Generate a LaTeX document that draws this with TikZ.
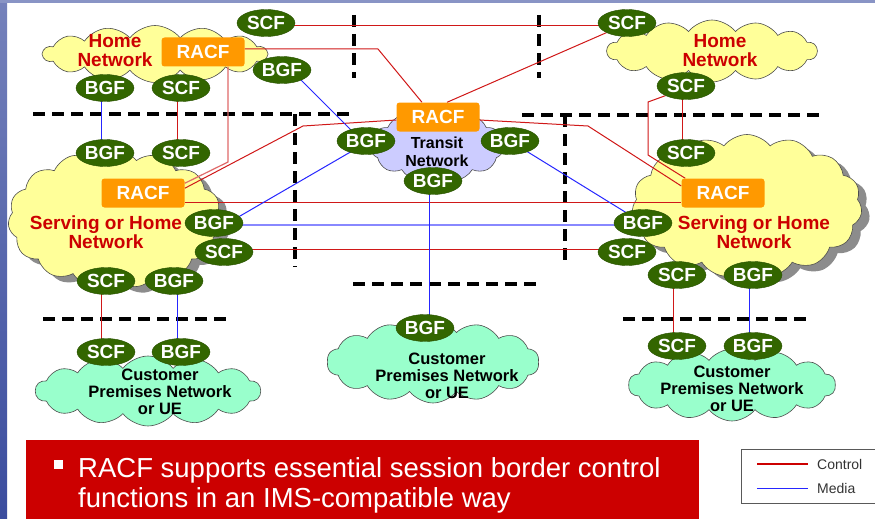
\documentclass[tikz,border=0pt]{standalone}
\usepackage{fontspec}
\setmainfont{Liberation Sans}
\usetikzlibrary{shapes.geometric,shapes.symbols}
\definecolor{fgreen}{HTML}{336600}
\definecolor{racforange}{HTML}{FF9900}
\definecolor{netred}{HTML}{CC0000}
\definecolor{cloudyellow}{HTML}{FFFF99}
\definecolor{cloudlav}{HTML}{CCCCFF}
\definecolor{cloudgreen}{HTML}{99FFCC}
\definecolor{ctrlred}{HTML}{D01818}
\definecolor{mediablue}{HTML}{2626FF}
\definecolor{stripblue}{HTML}{3A4C9E}
\pgfdeclarelayer{clouds}
\pgfdeclarelayer{links}
\pgfsetlayers{clouds,links,main}

\begin{document}
\begin{tikzpicture}[x=1pt,y=-1pt,
  fn/.style={ellipse, fill=fgreen, draw=fgreen!80!black, line width=0.4pt,
    minimum width=58pt, minimum height=27pt, inner sep=0pt, text=white,
    font=\fontsize{19}{19}\selectfont\bfseries},
  racfbox/.style={rectangle, rounded corners=3pt, fill=racforange,
    minimum width=83pt, minimum height=29pt, inner sep=0pt, text=white,
    font=\fontsize{19}{19}\selectfont\bfseries},
  netcloud/.style={cloud, cloud ignores aspect, cloud puff arc=105, draw=black!70, line width=0.6pt, inner sep=0pt},
  shadowcloud/.style={cloud, cloud ignores aspect, cloud puff arc=105, fill=black!45, draw=none, inner sep=0pt},
  redlabel/.style={align=center, text=netred, font=\fontsize{19}{19}\selectfont\bfseries, inner sep=0pt},
  blacklabel/.style={align=center, text=black, font=\fontsize{16.5}{17}\selectfont\bfseries, inner sep=0pt},
  zone/.style={line width=4pt, dash pattern=on 12pt off 7pt, black},
  ctrl/.style={ctrlred, line width=1pt},
  ctrllight/.style={ctrlred!65, line width=1.2pt},
  media/.style={mediablue, line width=1pt},
  medialight/.style={mediablue!55, line width=1.8pt},
]
\useasboundingbox (0,0) rectangle (875,519);

\begin{pgfonlayer}{clouds}
  % page background and slide border strips
  \fill[white] (0,0) rectangle (875,519);
  \shade[top color=stripblue!70, bottom color=stripblue] (0,0) rectangle (7,519);
  \fill[stripblue!60] (0,0) rectangle (875,3);

  % networks
  \node[netcloud, cloud puffs=14, fill=cloudyellow, minimum width=224pt, minimum height=57pt] (homel) at (155,54) {};
  \node[netcloud, cloud puffs=14, fill=cloudyellow, minimum width=210pt, minimum height=62pt] (homer) at (712,51) {};
  \node[shadowcloud, cloud puffs=15, minimum width=214pt, minimum height=138pt] (servlsh) at (123,225) {};
  \node[netcloud, cloud puffs=15, fill=cloudyellow, minimum width=214pt, minimum height=138pt] (servl) at (115,219) {};
  \node[shadowcloud, cloud puffs=15, minimum width=230pt, minimum height=143pt] (servrsh) at (755,212) {};
  \node[netcloud, cloud puffs=15, fill=cloudyellow, minimum width=230pt, minimum height=143pt] (servr) at (747,206) {};
  \node[netcloud, cloud puffs=11, fill=cloudlav, minimum width=133pt, minimum height=72pt] (transit) at (437,146) {};
  \node[netcloud, cloud puffs=14, fill=cloudgreen, minimum width=225pt, minimum height=70pt] (custl) at (148,391) {};
  \node[netcloud, cloud puffs=14, fill=cloudgreen, minimum width=212pt, minimum height=82pt] (custm) at (433,362) {};
  \node[netcloud, cloud puffs=14, fill=cloudgreen, minimum width=207pt, minimum height=72pt] (custr) at (732,385) {};
\end{pgfonlayer}

% network names
\node[redlabel] (homeltxt) at (115,51) {Home\\Network};
\node[redlabel] (homertxt) at (720,51) {Home\\Network};
\node[redlabel] (servltxt) at (106,232.5) {Serving or Home\\Network};
\node[redlabel] (servrtxt) at (754,232.5) {Serving or Home\\Network};
\node[blacklabel, font=\fontsize{16}{18}\selectfont\bfseries] (transtxt) at (437,152) {Transit\\Network};
\node[blacklabel] (custltxt) at (160,392) {Customer\\Premises Network\\or UE};
\node[blacklabel] (custmtxt) at (447,375.5) {Customer\\Premises Network\\or UE};
\node[blacklabel] (custrtxt) at (732,388.5) {Customer\\Premises Network\\or UE};

% functional entities
\node[fn] (scftl) at (266,23) {SCF};
\node[fn] (scftr) at (627,23) {SCF};
\node[racfbox] (racftl) at (203,52) {RACF};
\node[fn] (bgftl) at (282,70) {BGF};
\node[fn] (bgfhl) at (105,88) {BGF};
\node[fn] (scfhl) at (181,88) {SCF};
\node[fn] (scfhr) at (686,86) {SCF};

\node[fn] (bgfsl1) at (105,153) {BGF};
\node[fn] (scfsl1) at (181,153) {SCF};
\node[racfbox] (racfsl) at (143,193) {RACF};
\node[fn] (bgfsl2) at (214,223) {BGF};
\node[fn] (scfsl2) at (224,252) {SCF};
\node[fn] (scfsl3) at (106,281) {SCF};
\node[fn] (bgfsl3) at (174,281) {BGF};

\node[fn] (scfsr1) at (686,153) {SCF};
\node[racfbox] (racfsr) at (723,193) {RACF};
\node[fn] (bgfsr2) at (643,223) {BGF};
\node[fn] (scfsr2) at (627,252) {SCF};
\node[fn] (scfsr3) at (677,275) {SCF};
\node[fn] (bgfsr3) at (753,275) {BGF};

\node[racfbox] (racftt) at (438,117) {RACF};
\node[fn] (bgftt1) at (366,141) {BGF};
\node[fn] (bgftt2) at (510,141) {BGF};
\node[fn] (bgftt3) at (433,181) {BGF};

\node[fn] (scfcl) at (106,352) {SCF};
\node[fn] (bgfcl) at (181,352) {BGF};
\node[fn] (bgfcm) at (425,328) {BGF};
\node[fn] (scfcr) at (677,346) {SCF};
\node[fn] (bgfcr) at (753,346) {BGF};

% bend points of the control paths
\coordinate (kt1) at (378,49);
\coordinate (kt2) at (588,126);
\coordinate (kt3) at (303,126);
\coordinate (kt4) at (228,162);
\coordinate (kt5) at (648,102);
\coordinate (kt6) at (648,155);

\begin{pgfonlayer}{links}
  % domain boundaries
  \draw[zone] (33,114) -- (353,114);
  \draw[zone] (295,114) -- (295,267);
  \draw[zone] (522,115) -- (822,115);
  \draw[zone] (565,115) -- (565,267);
  \draw[zone] (354,15) -- (354,78);
  \draw[zone] (539,15) -- (539,78);
  \draw[zone] (43,319) -- (228,319);
  \draw[zone] (353,284) -- (539,284);
  \draw[zone] (623,319) -- (808,319);

  % control relations
  \draw[ctrl] ([yshift=-3pt]scftl.center) -- ([yshift=-3pt]scftr.center);
  \draw[ctrl] ([yshift=3pt]racftl.east) -- (kt1) -- ([xshift=-16pt]racftt.north);
  \draw[ctrl] ([xshift=9pt]racftt.north) -- (scftr.south west);
  \draw[ctrl] ([yshift=-3pt]racftt.east) -- (kt2) -- ([yshift=7pt]racfsr.west);
  \draw[ctrl] ([yshift=-3pt]racftt.west) -- (kt3) -- ([yshift=-10pt]racfsl.north east);
  \draw[ctrllight] ([xshift=25pt]racftl.south) -- (kt4) -- ([yshift=-5pt]racfsl.north east);
  \draw[ctrl] (scfhr.south west) -- (kt5) -- (kt6) -- ([xshift=4pt]racfsr.north west);
  \draw[ctrl] ([yshift=-9pt]racfsl.east) -- ([yshift=-9pt]racfsr.west);
  \draw[ctrl] ([yshift=3pt]scfsl2.center) -- ([yshift=3pt]scfsr2.center);
  \draw[ctrl] ([xshift=-4pt]scfhl.center) -- ([xshift=-4pt]scfsl1.center);
  \draw[ctrl] ([xshift=-4pt]scfhr.center) -- ([xshift=-4pt]scfsr1.center);
  \draw[ctrl] ([xshift=-5pt]scfsl3.center) -- ([xshift=-5pt]scfcl.center);
  \draw[ctrl] ([xshift=-4pt]scfsr3.center) -- ([xshift=-4pt]scfcr.center);

  % media relations
  \draw[media] ([xshift=11pt,yshift=-2pt]bgftl.center) -- ([xshift=-2pt,yshift=-2pt]bgftt1.center);
  \draw[media] ([xshift=14pt]bgfsl2.center) -- ([yshift=-2pt]bgftt1.center);
  \draw[media] (bgftt2.center) -- (bgfsr2.center);
  \draw[medialight] ([yshift=-2pt]bgfsl2.center) -- ([yshift=-2pt]bgfsr2.center);
  \draw[media] ([xshift=-4pt]bgfhl.center) -- ([xshift=-4pt]bgfsl1.center);
  \draw[media] ([xshift=-4pt]bgftt3.center) -- ([xshift=4pt]bgfcm.center);
  \draw[media] ([xshift=3pt]bgfsl3.center) -- ([xshift=-4pt]bgfcl.center);
  \draw[media] ([xshift=-4pt]bgfsr3.center) -- ([xshift=-4pt]bgfcr.center);
\end{pgfonlayer}

% summary banner
\fill[netred] (26,440) rectangle (699,522);
\node[fill=white, minimum size=9pt, inner sep=0pt] (bullet) at (58,464) {};
\node[anchor=base west, text=white, inner sep=0pt, font=\fontsize{27.5}{30}\selectfont] (line1) at (78,477) {RACF supports essential session border control};
\node[anchor=base west, text=white, inner sep=0pt, font=\fontsize{27.5}{30}\selectfont] (line2) at (78,507) {functions in an IMS-compatible way};

% legend
\draw[black!65, line width=1pt] (741,449) rectangle (890,503);
\coordinate (lg1a) at (757,464);
\coordinate (lg1b) at (808,464);
\coordinate (lg2a) at (757,488);
\coordinate (lg2b) at (808,488);
\draw[netred, line width=1.5pt] (lg1a) -- (lg1b);
\draw[mediablue, line width=1pt] (lg2a) -- (lg2b);
\node[anchor=west, inner sep=0pt, text=black!80, font=\fontsize{14}{14}\selectfont] (lgctrl) at (817,464) {Control};
\node[anchor=west, inner sep=0pt, text=black!80, font=\fontsize{14}{14}\selectfont] (lgmedia) at (817,488) {Media};
\end{tikzpicture}
\end{document}
